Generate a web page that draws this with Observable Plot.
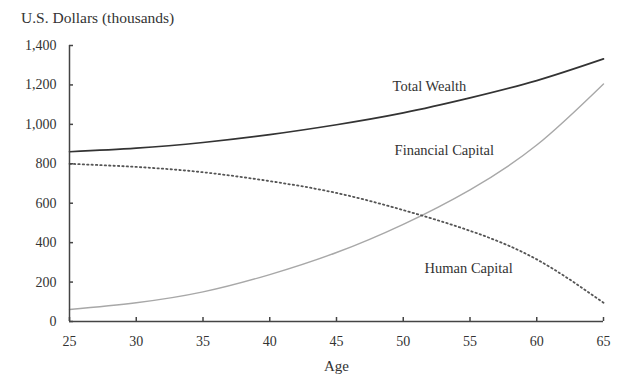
<!DOCTYPE html>
<html>
<head>
<meta charset="utf-8">
<script src="https://cdn.jsdelivr.net/npm/d3@7"></script>
<script src="https://cdn.jsdelivr.net/npm/@observablehq/plot@0.6"></script>
<style>
  body { margin: 0; background: #fff; }
  #title { font-family: "Liberation Serif", serif; font-size: 15.5px; color: #333; height: 32px; line-height: 36px; padding-left: 21px; box-sizing: border-box; }
  svg { display: block; }
</style>
</head>
<body>
<div id="title">U.S. Dollars (thousands)</div>
<div id="chart"></div>
<script>
const ages = [25, 30, 35, 40, 45, 50, 55, 60, 65];
const totalWealth = [861, 879, 908, 948, 998, 1058, 1134, 1222, 1332];
const financialCapital = [61, 95, 150, 238, 350, 493, 668, 895, 1205];
const humanCapital = [800, 784, 757, 712, 652, 565, 460, 315, 95];
const xTicks = [25, 30, 35, 40, 45, 50, 55, 60, 65];
const yTicks = [0, 200, 400, 600, 800, 1000, 1200, 1400];
const labelNames = ["Total Wealth", "Financial Capital", "Human Capital"];
const labelAges = [49.2, 49.35, 51.6];
const labelValues = [1195, 866, 268];

const rows = ages.map((a, i) => ({age: a, total: totalWealth[i], fin: financialCapital[i], human: humanCapital[i]}));
const labels = labelNames.map((n, i) => ({name: n, age: labelAges[i], value: labelValues[i]}));

const font = "Liberation Serif, serif";
const chart = Plot.plot({
  width: 640,
  height: 358,
  marginTop: 13,
  marginLeft: 69,
  marginRight: 37,
  marginBottom: 69,
  style: {fontFamily: font, fontSize: "14px", color: "#333", background: "#fff"},
  x: {domain: [25, 65]},
  y: {domain: [0, 1400]},
  marks: [
    Plot.line(rows, {x: "age", y: "fin", stroke: "#a8a8a8", strokeWidth: 1.4, curve: "natural"}),
    Plot.line(rows, {x: "age", y: "human", stroke: "#555", strokeWidth: 1.8, strokeDasharray: "1.4 3", curve: "natural"}),
    Plot.line(rows, {x: "age", y: "total", stroke: "#333", strokeWidth: 1.7, curve: "natural"}),
    Plot.ruleX([25], {stroke: "#444", strokeWidth: 1.5}),
    Plot.ruleY([0], {stroke: "#444", strokeWidth: 1.5}),
    Plot.axisY({ticks: yTicks, tickSize: 0, tickPadding: 13, tickFormat: d3.format(","), label: null, fontSize: 14, fill: "#333"}),
    Plot.axisY({ticks: yTicks, tickSize: -4, tickFormat: () => "", label: null, stroke: "#444", strokeWidth: 1.5}),
    Plot.axisX({ticks: xTicks, tickSize: 0, tickPadding: 15, label: null, fontSize: 14, fill: "#333"}),
    Plot.axisX({ticks: xTicks, tickSize: -4, tickFormat: () => "", label: null, stroke: "#444", strokeWidth: 1.5}),
    Plot.text(labels, {x: "age", y: "value", text: "name", textAnchor: "start", fontSize: 14.5, fill: "#333"}),
    Plot.text(["Age"], {frameAnchor: "bottom", dy: 49, text: d => d, fontSize: 15, fill: "#333"})
  ]
});
document.getElementById("chart").append(chart);
</script>
</body>
</html>
